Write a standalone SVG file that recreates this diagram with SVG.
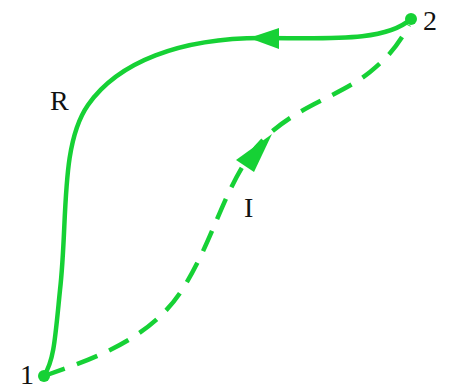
<svg xmlns="http://www.w3.org/2000/svg" width="454" height="389" viewBox="0 0 454 389">
<style>
.ln{fill:none;stroke:#16d135;stroke-width:4.5;stroke-linecap:butt}
.dash{stroke-dasharray:22 13}
.ah{fill:#16d135}
.lbl{font-family:"Liberation Serif",serif;font-size:28px;fill:#111}
</style>
<rect width="454" height="389" fill="#fff"/>
<g id="connectors">
<path class="ln" d="M411,19 C385,42 330,38 262,38 C180,38 118,62 88,105 C60,145 68,220 60,290 C55,340 54,360 44,376"/>
<polygon class="ah" points="249,38 279,28 279,49"/>
<path class="ln dash" d="M44,376 C90,360 150,340 182,290 C212,243 222,195 250,155 C285,108 335,100 370,72 C390,56 400,42 409,25"/>
<polygon class="ah" points="272,134 236,160 254,172"/>
</g>
<g id="node1"><circle class="ah" cx="44" cy="376" r="6"/><text class="lbl" x="20" y="384">1</text></g>
<g id="node2"><circle class="ah" cx="411" cy="19" r="6"/><text class="lbl" x="423" y="30">2</text></g>
<g id="labelR"><text class="lbl" x="50" y="110">R</text></g>
<g id="labelI"><text class="lbl" x="244" y="217">I</text></g>
</svg>
